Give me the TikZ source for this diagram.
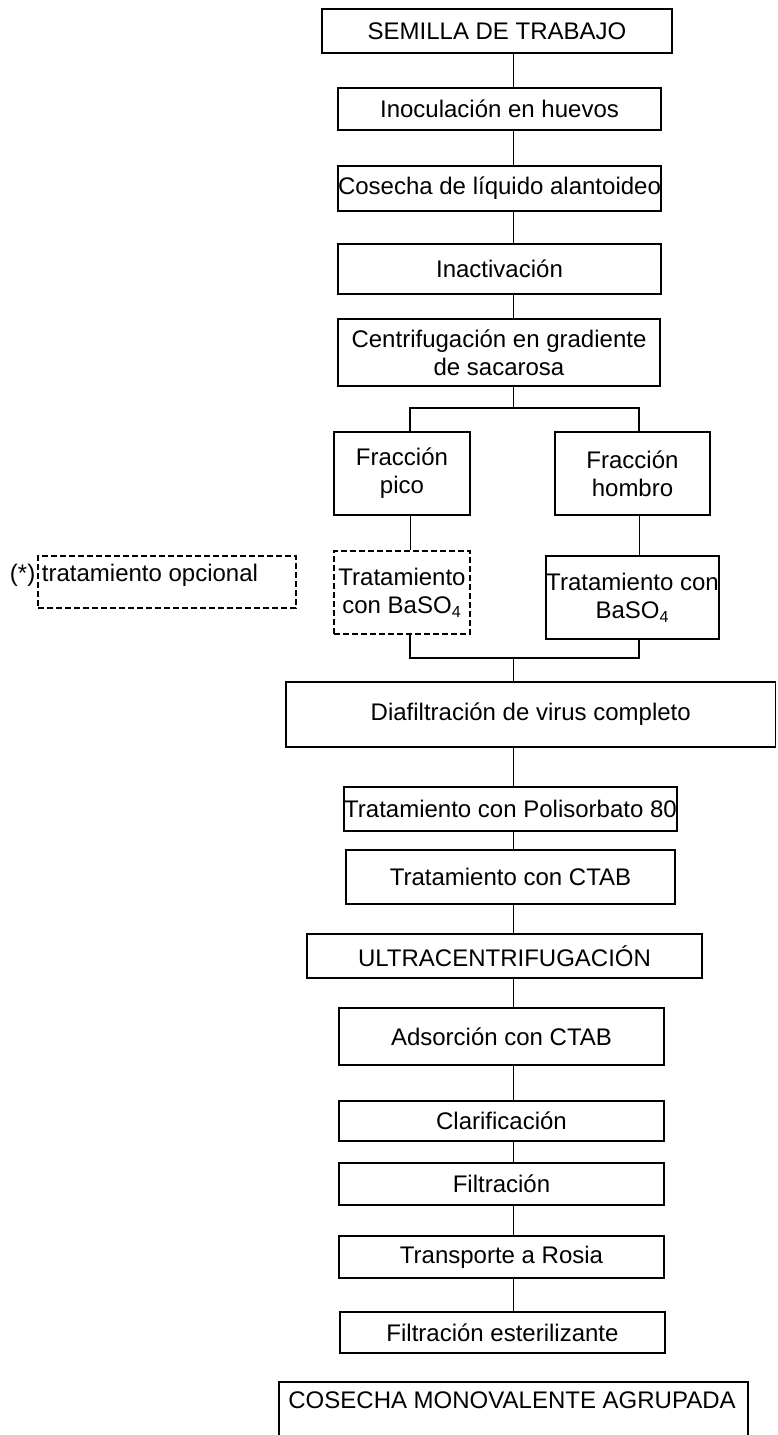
\documentclass[tikz,border=0pt]{standalone}
\usepackage{fontspec}
\setmainfont{Liberation Sans}
\newcommand*{\fuente}{\fontsize{12}{14}\selectfont}
\newcommand*{\paso}[6][]{%
  \node [ caja, #1, minimum width = #4, minimum height = #5 ] (#2) at (#3) {#6};
}

\begin{document}
\begin{tikzpicture}[x=0.5pt, y=-0.5pt,
    linea/.style = {line width=0.5pt}]
		\tikzset{caja/.style={draw, line width=0.8pt, inner sep=0pt, align=center, font=\fuente},
		         rayado/.style={dash pattern=on 3pt off 1.5pt},
		         texto/.style={inner sep=0pt, font=\fuente}}
		\useasboundingbox (0,0) rectangle (777,1435);
		% pasos del proceso
		\paso{semilla}{497,31}{175pt}{22pt}{SEMILLA DE TRABAJO}
		\paso{inoc}{499.5,109}{161.5pt}{21pt}{Inoculación en huevos}
		\paso{cosecha}{499.5,188.5}{161.5pt}{22.5pt}{Cosecha de líquido alantoideo}
		\paso{inact}{499.5,269}{161.5pt}{25pt}{Inactivación}
		\paso{centrif}{499,352.5}{161pt}{33.5pt}{Centrifugación en gradiente\\de sacarosa}
		\paso{pico}{402,473.5}{68pt}{41.5pt}{Fracción\\pico}
		\paso{hombro}{632.5,473.5}{77.5pt}{41.5pt}{Fracción\\hombro}
		\paso[rayado]{bario1}{402,592.5}{68pt}{41.5pt}{Tratamiento\\con BaSO\textsubscript{4}}
		\paso{bario2}{632.5,597.5}{77.5pt}{41.5pt}{Tratamiento con\\BaSO\textsubscript{4}}
		\paso[rayado]{opcional}{167,582}{129pt}{26pt}{}
		\node[texto] (opctexto) at (134,575) {(*) tratamiento opcional};
		\paso{diafil}{530.75,714.5}{244.75pt}{32.5pt}{Diafiltración de virus completo}
		\paso{polis}{510.5,809}{164.5pt}{22pt}{Tratamiento con Polisorbato 80}
		\paso{ctab}{510.5,877}{164.5pt}{27pt}{Tratamiento con CTAB}
		\paso{ultra}{504.5,956}{197.5pt}{22pt}{ULTRACENTRIFUGACIÓN}
		\paso{adsor}{501.5,1036.5}{162.5pt}{28.5pt}{Adsorción con CTAB}
		\paso{clarif}{501.5,1121}{162.5pt}{20pt}{Clarificación}
		\paso{filt}{501.5,1184}{162.5pt}{21pt}{Filtración}
		\paso{transp}{501.5,1257}{162.5pt}{21pt}{Transporte a Rosia}
		\paso{esteril}{502.5,1332.5}{162.5pt}{20.5pt}{Filtración esterilizante}
		\node[texto] (agrup) at (512,1400) {COSECHA MONOVALENTE AGRUPADA};
		\draw[line width=0.8pt] (279,1440) |- (748,1382) -- (748,1440);
		% conexiones
		\coordinate (eje) at (513,0);
		\coordinate (rama) at (513,408);
		\coordinate (ramai) at (410,408);
		\coordinate (ramad) at (639,408);
		\coordinate (unei) at (410,658);
		\coordinate (uned) at (639,658);
		\coordinate (une) at (513,658);
		\foreach \a/\b in {semilla/inoc, inoc/cosecha, cosecha/inact, inact/centrif,
		                   diafil/polis, polis/ctab, ctab/ultra, ultra/adsor,
		                   adsor/clarif, clarif/filt, filt/transp, transp/esteril}
		  \draw[linea] (\a.south -| eje) -- (\b.north -| eje);
		\draw[linea] (centrif.south -| eje) -- (rama);
		\draw[line width=0.8pt] (ramai |- pico.north) -- (ramai) -- (ramad) -- (ramad |- hombro.north);
		\draw[linea] (pico.south -| ramai) -- (bario1.north -| ramai);
		\draw[linea] (hombro.south -| ramad) -- (bario2.north -| ramad);
		\draw[line width=0.8pt] (bario1.south -| unei) -- (unei) -- (uned) -- (bario2.south -| uned);
		\draw[linea] (une) -- (diafil.north -| une);
\end{tikzpicture}
\end{document}
